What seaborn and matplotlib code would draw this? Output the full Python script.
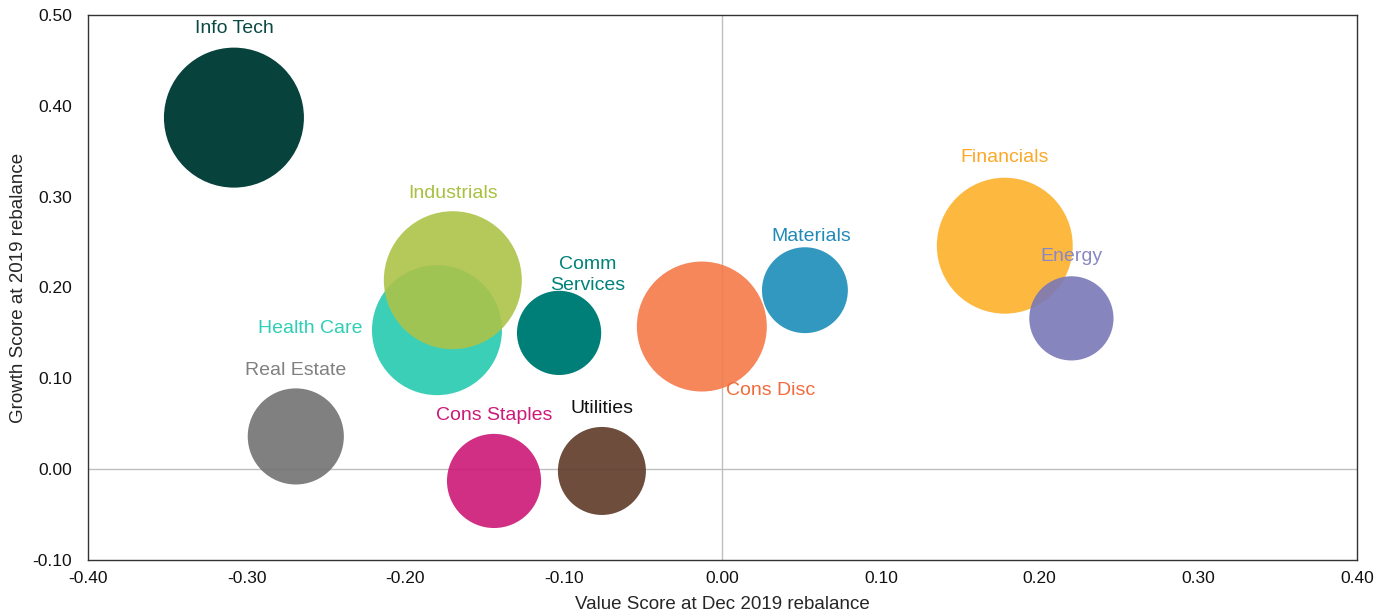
import pandas as pd
import seaborn as sns
import matplotlib.pyplot as plt
from matplotlib.colors import to_rgba
from matplotlib.ticker import FormatStrFormatter

# sector scores at the Dec 2019 rebalance (drawing order matters: later on top)
sectors = ['Info Tech', 'Health Care', 'Industrials', 'Comm\nServices', 'Cons Disc',
           'Materials', 'Financials', 'Energy', 'Real Estate', 'Cons Staples', 'Utilities']
value_score = [-0.308, -0.180, -0.170, -0.103, -0.013, 0.052, 0.178, 0.220, -0.269, -0.144, -0.076]
growth_score = [0.387, 0.153, 0.208, 0.150, 0.157, 0.197, 0.246, 0.166, 0.036, -0.013, -0.002]
weight = [21.0, 18.1, 20.4, 7.6, 18.1, 7.9, 19.8, 7.6, 9.9, 9.5, 8.3]

bubble_colors = ['#08423c', '#27cab0', '#acc348', '#007f78', '#f47a48', '#1c8db9',
                 '#fdb12b', '#7a78b7', '#727272', '#cc1876', '#5e3a28']
bubble_alpha = [1.0, 0.9, 0.9, 1.0, 0.9, 0.9, 0.9, 0.9, 0.9, 0.9, 0.9]
label_colors = ['#0b4a44', '#2ecfb5', '#a8c040', '#00817a', '#f26b3b', '#1f8ab8',
                '#fca82a', '#8a88c4', '#808080', '#cc1a78', '#111111']
# label offsets from bubble centre, in pixels (dx, dy up)
label_offsets = [(0, 89), (-127, 2), (0, 87), (29, 58), (69, -64), (6, 54),
                 (0, 88), (0, 62), (0, 66), (0, 65), (0, 62)]

df = pd.DataFrame({'Sector': sectors, 'Value': value_score,
                   'Growth': growth_score, 'Weight': weight})

sns.set_style('white')
plt.rcParams['font.family'] = ['Liberation Sans', 'DejaVu Sans']

fig = plt.figure(figsize=(13.86, 6.14), dpi=100)
ax = fig.add_axes([0.0635, 0.088, 0.9155, 0.8876])

ax.axhline(0, color='#bfbfbf', lw=1, zorder=0)
ax.axvline(0, color='#bfbfbf', lw=1, zorder=0)

palette = {s: to_rgba(c, a) for s, c, a in zip(sectors, bubble_colors, bubble_alpha)}
sns.scatterplot(
    data=df, x='Value', y='Growth',
    hue='Sector', palette=palette,
    size='Weight', sizes=(0, 10160), size_norm=(0, max(weight)),
    linewidth=0, legend=False, ax=ax, zorder=2
)

for i, s in enumerate(sectors):
    dx, dy = label_offsets[i]
    ax.annotate(s, (value_score[i], growth_score[i]),
                xytext=(dx * 0.72, dy * 0.72), textcoords='offset points',
                ha='center', va='center', fontsize=14, color=label_colors[i],
                linespacing=1.25, zorder=3)

ax.set_xlim(-0.40, 0.40)
ax.set_ylim(-0.10, 0.50)
ax.set_xticks([-0.4, -0.3, -0.2, -0.1, 0.0, 0.1, 0.2, 0.3, 0.4])
ax.set_yticks([-0.1, 0.0, 0.1, 0.2, 0.3, 0.4, 0.5])
ax.xaxis.set_major_formatter(FormatStrFormatter('%.2f'))
ax.yaxis.set_major_formatter(FormatStrFormatter('%.2f'))
ax.tick_params(labelsize=12.5, length=0, colors='#111111')
ax.tick_params(axis='x', pad=8)
ax.tick_params(axis='y', pad=11.5)

ax.set_xlabel('Value Score at Dec 2019 rebalance', fontsize=13.5, labelpad=7)
ax.set_ylabel('Growth Score at 2019 rebalance', fontsize=13.5, labelpad=4)

for sp in ax.spines.values():
    sp.set_color('#333333')
    sp.set_linewidth(1)

fig.savefig('out.png', dpi=100)
